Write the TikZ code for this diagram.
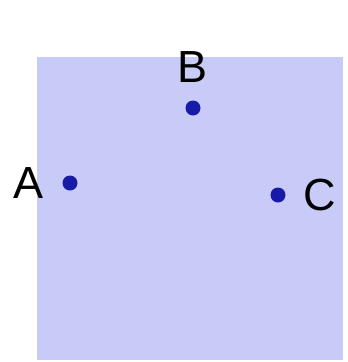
\documentclass[tikz,border=0pt]{standalone}
\usepackage{fontspec}
\setmainfont{Liberation Sans}
\usetikzlibrary{positioning}
\definecolor{PlaneFill}{HTML}{C8CAF8}
\definecolor{PointBlue}{HTML}{1A1AA8}

\begin{document}
\begin{tikzpicture}[x=1pt, y=-1pt,
  pt/.style={circle, fill=PointBlue, minimum size=15pt, inner sep=0pt},
  lbl/.style={inner sep=0pt, font=\fontsize{45}{45}\selectfont}]
  \useasboundingbox (0,0) rectangle (348,362);
  \fill[PlaneFill] (37,57) rectangle (343,360);
  % the three points
  \node[pt] (A) at (70,183) {};
  \node[pt] (B) at (193,108) {};
  \node[pt] (C) at (278,195) {};
  % their names
  \node[lbl, left=19pt of A] (labA) {A};
  \node[lbl, above=18pt of B] (labB) {B};
  \node[lbl, right=18pt of C] (labC) {C};
\end{tikzpicture}
\end{document}
